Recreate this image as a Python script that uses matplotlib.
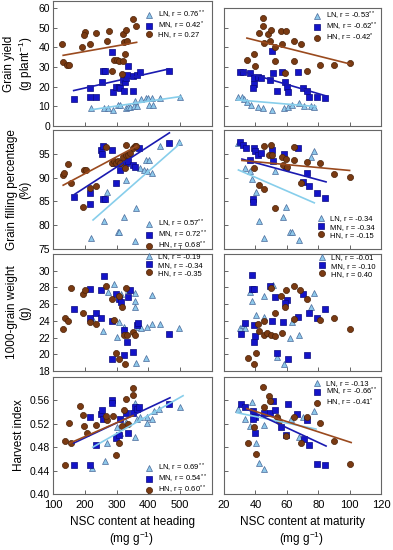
import matplotlib
matplotlib.use('Agg')
import matplotlib.pyplot as plt
from matplotlib.lines import Line2D
from matplotlib.ticker import FormatStrFormatter

plt.rcParams['font.family'] = ['Liberation Sans', 'DejaVu Sans']
plt.rcParams['mathtext.fontset'] = 'custom'
plt.rcParams['mathtext.rm'] = 'Liberation Sans'
plt.rcParams['mathtext.it'] = 'Liberation Sans:italic'

# ---------------- data ----------------
# Row 1: grain yield vs NSC at heading
gy_h_HN_x = [127,132,143,151,191,200,197,215,234,269,277,286,293,301,307,320,322,320,331,334,325,317,350,361]
gy_h_HN_y = [41.6,32.3,31.1,31.1,40.1,47.9,46.1,41.8,47.1,43.0,48.4,27.7,33.3,33.7,32.8,33.1,42.5,46.9,48.6,43.0,36.5,26.5,54.4,50.7]
gy_h_MN_x = [165,215,236,215,254,258,264,286,288,299,307,311,320,322,325,328,333,336,350,350,363,374,465]
gy_h_MN_y = [13.9,14.6,14.6,19.2,22.6,27.7,27.7,37.6,17.5,19.7,19.7,19.2,23.5,18.0,22.1,24.3,26.0,30.3,25.2,18.0,26.0,27.2,27.7]
gy_h_LN_x = [221,261,272,288,304,311,330,336,341,354,357,364,378,392,400,411,403,413,436,500]
gy_h_LN_y = [9.0,9.3,9.3,8.2,10.7,10.7,9.0,9.5,9.5,10.2,12.9,10.2,13.9,14.1,14.4,14.4,10.7,10.7,14.1,14.6]
gy_h_fit_LN = ([218, 502], [8.2, 15.0])
gy_h_fit_MN = ([165, 465], [18.0, 29.0])
gy_h_fit_HN = ([132, 363], [35.9, 42.5])

gy_m_HN_x = [44.9,44.9,42.1,47.9,50.0,56.0,59.3,45.3,49.6,52.2,57.1,64.6,68.9,39.3,34.6,52.2,64.6,40.0,58.6,72.8,81.4,90.0,100.0]
gy_m_HN_y = [54.9,50.7,47.3,46.8,49.0,48.1,48.1,42.2,43.0,40.0,41.7,43.0,41.7,36.6,33.7,33.2,33.2,30.3,27.2,28.2,31.1,31.1,32.0]
gy_m_MN_x = [30.3,32.4,36.3,38.9,41.5,43.6,39.3,38.5,50.7,51.3,49.6,53.5,57.1,58.6,60.3,60.8,67.2,70.6,72.8,74.3,79.2,84.4]
gy_m_MN_y = [27.7,27.7,26.9,24.3,24.8,24.3,21.4,19.2,37.9,27.2,23.5,18.0,27.7,22.6,19.7,17.5,27.7,19.2,18.0,14.6,14.6,14.1]
gy_m_LN_x = [29.2,31.4,32.9,34.6,37.2,41.5,44.9,50.7,58.2,60.8,63.6,67.9,71.1,75.4,77.5]
gy_m_LN_y = [15.0,14.5,13.9,12.4,10.7,9.5,9.0,8.2,9.0,9.5,10.7,11.9,10.2,10.2,9.5]
gy_m_fit_LN = ([28.2, 78.6], [13.3, 9.9])
gy_m_fit_MN = ([29.9, 85.0], [28.2, 15.3])
gy_m_fit_HN = ([34.6, 100.0], [44.7, 31.6])

# Row 2: grain filling percentage
gf_h_HN_x = [132,135,148,157,197,204,193,215,236,266,286,293,299,304,311,320,328,328,336,341,350,357,361,325]
gf_h_HN_y = [90.5,90.9,92.9,88.9,91.7,91.7,83.8,87.9,88.2,96.4,93.0,93.4,93.0,93.4,93.0,94.4,96.9,94.8,94.8,95.1,96.2,96.7,96.6,92.0]
gf_h_MN_x = [165,215,215,250,255,256,258,264,286,297,293,309,311,328,336,352,357,372,465]
gf_h_MN_y = [85.9,86.8,84.5,95.8,95.0,96.7,85.6,85.6,95.8,88.9,93.0,93.0,91.7,93.0,93.4,92.7,92.3,96.2,97.3]
gf_h_LN_x = [218,261,269,304,309,322,328,357,361,374,385,392,403,395,411,436,497]
gf_h_LN_y = [77.4,80.8,87.0,78.5,78.5,81.8,89.6,76.7,83.7,92.0,91.6,93.6,93.6,91.3,90.9,96.7,97.4]
gf_h_fit_LN = ([226, 502], [81.1, 97.3])
gf_h_fit_MN = ([168, 466], [86.5, 99.4])
gf_h_fit_HN = ([132, 363], [88.4, 96.6])

gf_m_HN_x = [45.3,50.0,48.5,50.7,57.1,59.3,57.6,60.3,64.6,64.6,72.8,81.4,90.0,100.0,42.1,45.7,52.2,68.9,38.9]
gf_m_HN_y = [96.7,96.9,94.8,94.8,94.3,93.9,92.7,92.3,96.4,93.7,93.2,93.0,90.8,90.2,88.4,87.7,83.7,88.9,92.0]
gf_m_MN_x = [30.3,32.0,34.2,38.9,40.0,41.5,43.6,50.7,51.3,58.2,59.3,67.2,72.8,70.6,74.3,79.2,84.4,38.5,38.5,36.7]
gf_m_MN_y = [97.4,96.9,96.2,96.2,95.5,94.8,95.1,95.8,93.4,95.0,92.3,96.2,91.0,89.1,88.2,86.8,85.8,85.6,84.9,93.7]
gf_m_LN_x = [29.2,33.5,36.7,37.8,40.6,42.1,45.7,52.8,57.8,59.3,62.1,63.6,67.9,75.4,77.1]
gf_m_LN_y = [97.3,92.0,91.3,89.8,87.0,80.8,77.4,91.3,81.8,83.8,78.5,78.5,76.9,94.4,95.5]
gf_m_fit_LN = ([29.2, 77.5], [91.6, 84.7])
gf_m_fit_MN = ([31.4, 85.0], [93.9, 89.1])
gf_m_fit_HN = ([31.4, 100.0], [93.6, 91.5])

# Row 3: 1000-grain weight
gw_h_HN_x = [132,138,148,157,193,200,193,215,236,266,286,293,299,307,307,318,322,325,328,333,350,357]
gw_h_HN_y = [23.0,24.4,24.0,27.9,27.2,27.7,24.9,23.9,23.6,28.2,26.6,24.1,20.2,19.4,27.0,25.6,22.3,18.8,27.9,22.3,22.7,22.3]
gw_h_MN_x = [165,215,215,236,250,250,261,286,297,307,314,322,322,286,333,336,341,350,363,368,465]
gw_h_MN_y = [25.4,24.4,27.8,24.9,24.4,27.7,29.4,24.0,27.2,26.6,26.2,22.9,19.9,19.4,21.5,26.8,27.7,20.3,23.5,23.7,22.4]
gw_h_LN_x = [224,258,272,293,301,309,314,322,336,357,357,357,361,368,378,392,395,411,411,436,497]
gw_h_LN_y = [24.3,22.8,27.4,28.4,22.1,23.9,27.2,23.3,27.7,27.3,26.4,25.6,18.9,23.3,23.1,19.6,23.3,27.1,23.6,23.6,23.1]

gw_m_HN_x = [50.0,56.0,59.3,64.6,68.5,72.8,58.6,52.2,64.6,81.4,90.0,100.0,41.5,45.7,42.1,45.3,47.5,49.7,52.2,57.1,40.6,35.0,39.3]
gw_m_HN_y = [27.9,27.0,27.7,28.2,27.7,26.6,25.6,24.9,24.2,24.1,24.4,23.0,23.6,24.0,22.8,22.3,22.5,22.3,22.2,22.6,20.2,19.5,18.8]
gw_m_MN_x = [37.8,37.8,39.3,49.2,52.2,60.0,58.6,70.6,67.2,74.3,79.2,84.4,33.5,30.7,39.3,40.0,38.9,50.7,57.8,53.5,60.8,72.8]
gw_m_MN_y = [29.5,27.8,27.8,28.2,26.8,26.5,26.1,27.2,24.5,24.9,24.4,25.4,23.7,22.4,23.5,22.2,21.5,24.0,23.9,20.1,19.4,19.9]
gw_m_LN_x = [36.3,37.8,45.7,51.3,77.1,75.4,40.6,45.3,63.6,29.9,32.0,33.5,62.1,67.9,53.5,58.2]
gw_m_LN_y = [27.4,26.4,27.0,28.3,27.3,25.6,24.7,24.5,23.9,23.1,23.5,23.1,22.0,22.3,19.7,18.8]

# Row 4: harvest index
hi_h_HN_x = [137,139,150,157,184,193,198,206,236,270,266,289,298,308,330,323,316,350,350,337]
hi_h_HN_y = [0.450,0.491,0.522,0.488,0.550,0.535,0.517,0.505,0.518,0.527,0.533,0.533,0.467,0.488,0.562,0.544,0.517,0.570,0.581,0.519]
hi_h_MN_x = [165,215,215,236,250,255,258,286,286,297,307,311,328,336,350,357,364,372,465]
hi_h_MN_y = [0.450,0.450,0.531,0.484,0.536,0.544,0.529,0.561,0.555,0.495,0.501,0.528,0.539,0.504,0.539,0.548,0.545,0.548,0.553]
hi_h_LN_x = [222,262,270,300,311,330,359,359,364,375,396,396,412,417,433,498]
hi_h_LN_y = [0.445,0.456,0.487,0.514,0.505,0.523,0.556,0.497,0.529,0.532,0.531,0.521,0.529,0.542,0.545,0.548]
hi_h_fit_LN = ([225, 509], [0.480, 0.568])
hi_h_fit_MN = ([165, 468], [0.487, 0.5645])
hi_h_fit_HN = ([153, 352], [0.487, 0.534])

hi_m_HN_x = [44.9,48.5,49.6,45.7,53.9,55.0,39.3,59.3,64.6,72.8,81.4,90.0,100.0,35.0,40.6,68.9]
hi_m_HN_y = [0.583,0.567,0.559,0.548,0.531,0.525,0.514,0.500,0.532,0.532,0.522,0.491,0.451,0.488,0.469,0.488]
hi_m_MN_x = [30.7,33.5,38.5,40.0,38.5,40.0,45.3,51.3,49.6,52.8,60.8,66.8,72.8,71.1,74.3,79.2,84.6,59.3,56.0]
hi_m_MN_y = [0.553,0.548,0.542,0.531,0.529,0.505,0.539,0.559,0.539,0.544,0.553,0.536,0.527,0.494,0.484,0.451,0.450,0.501,0.514]
hi_m_LN_x = [29.2,33.5,37.8,36.7,40.6,42.1,45.7,45.3,62.9,67.9,70.0,77.1]
hi_m_LN_y = [0.545,0.528,0.557,0.517,0.487,0.453,0.442,0.518,0.528,0.497,0.531,0.542]
hi_m_fit_LN = ([28.2, 78.6], [0.539, 0.511])
hi_m_fit_MN = ([31.4, 85.0], [0.549, 0.482])
hi_m_fit_HN = ([34.6, 101.0], [0.546, 0.488])

# legend labels
leg_gy_h = [r'LN, r = 0.76$^{**}$', r'MN, r = 0.42$^{*}$', 'HN, r = 0.27']
leg_gy_m = [r'LN, r = -0.53$^{**}$', r'MN, r = -0.62$^{**}$', r'HN, r = -0.42$^{*}$']
leg_gf_h = [r'LN, r = 0.57$^{**}$', r'MN, r = 0.72$^{**}$', r'HN, r = 0.68$^{**}$']
leg_gf_m = ['LN, r = -0.34', 'MN, r = -0.34', 'HN, r = -0.15']
leg_gw_h = ['LN, r = -0.19', 'MN, r = -0.34', 'HN, r = -0.35']
leg_gw_m = ['LN, r = -0.01', 'MN, r = -0.10', 'HN, r = 0.40']
leg_hi_h = [r'LN, r = 0.69$^{**}$', r'MN, r = 0.54$^{**}$', r'HN, r = 0.60$^{**}$']
leg_hi_m = ['LN, r = -0.13', r'MN, r = -0.66$^{**}$', r'HN, r = -0.41$^{*}$']

ylabels = ['Grain yield\n(g plant$^{-1}$)', 'Grain filling percentage\n(%)',
           '1000-grain weight\n(g)', 'Harvest index']
xlabel_h = 'NSC content at heading\n(mg g$^{-1}$)'
xlabel_m = 'NSC content at maturity\n(mg g$^{-1}$)'

# ---------------- styles ----------------
W, H = 393, 550
fig = plt.figure(figsize=(W / 100, H / 100), dpi=100)

sty = {
    'LN': dict(marker='^', ms=4.4, mfc='#8ec8ea', mec='#4a6a9a', mew=0.5),
    'MN': dict(marker='s', ms=3.8, mfc='#1414c8', mec='#0a0a80', mew=0.5),
    'HN': dict(marker='o', ms=4.4, mfc='#7a3a12', mec='#4a2208', mew=0.5),
}
line_col = {'LN': '#87ceeb', 'MN': '#1a1ab0', 'HN': '#9a4a1e'}
spine_col = '#666666'


def fx(px):
    return px / W


def fy(py):
    return 1 - py / H


def make_ax(left, right, top, bottom):
    ax = fig.add_axes([fx(left), fy(bottom), fx(right) - fx(left), (bottom - top) / H])
    for s in ax.spines.values():
        s.set_color(spine_col)
        s.set_linewidth(0.8)
    ax.tick_params(direction='in', length=3, width=0.7, color=spine_col,
                   labelsize=7.5, pad=2, top=False, right=False)
    return ax


def draw(ax, series, fits, labels, leg_xy):
    for key, (x, y) in series.items():
        ax.plot(x, y, ls='none', zorder=3, **sty[key])
    if fits:
        for key, (x, y) in fits.items():
            ax.plot(x, y, color=line_col[key], lw=1.2, zorder=4)
    handles = [Line2D([], [], ls='none', **sty[k]) for k in ('LN', 'MN', 'HN')]
    lx, ly = leg_xy
    has_sup = any('$' in lab for lab in labels)
    ax.legend(handles, labels, loc='upper left', bbox_to_anchor=(fx(lx), fy(ly)),
              bbox_transform=fig.transFigure, frameon=False, fontsize=5.5,
              handlelength=1.0, handletextpad=0.75,
              labelspacing=(-0.15 if has_sup else 0.12),
              borderpad=0, borderaxespad=0)


rows = [
    dict(top_l=1, top_r=8, bottom=126, ylim_l=(0, 63.5), ylim_r=(0, 60), yt=[0, 10, 20, 30, 40, 50, 60], fmt='%d'),
    dict(top_l=130, top_r=130, bottom=249, ylim_l=(75, 100), ylim_r=(75, 100), yt=[75, 80, 85, 90, 95], fmt='%d'),
    dict(top_l=254, top_r=254, bottom=371, ylim_l=(18, 32), ylim_r=(18, 32), yt=[18, 20, 22, 24, 26, 28, 30], fmt='%d'),
    dict(top_l=377, top_r=377, bottom=494, ylim_l=(0.40, 0.60), ylim_r=(0.40, 0.60), yt=[0.40, 0.44, 0.48, 0.52, 0.56], fmt='%.2f'),
]

left_series = [
    {'LN': (gy_h_LN_x, gy_h_LN_y), 'MN': (gy_h_MN_x, gy_h_MN_y), 'HN': (gy_h_HN_x, gy_h_HN_y)},
    {'LN': (gf_h_LN_x, gf_h_LN_y), 'MN': (gf_h_MN_x, gf_h_MN_y), 'HN': (gf_h_HN_x, gf_h_HN_y)},
    {'LN': (gw_h_LN_x, gw_h_LN_y), 'MN': (gw_h_MN_x, gw_h_MN_y), 'HN': (gw_h_HN_x, gw_h_HN_y)},
    {'LN': (hi_h_LN_x, hi_h_LN_y), 'MN': (hi_h_MN_x, hi_h_MN_y), 'HN': (hi_h_HN_x, hi_h_HN_y)},
]
right_series = [
    {'LN': (gy_m_LN_x, gy_m_LN_y), 'MN': (gy_m_MN_x, gy_m_MN_y), 'HN': (gy_m_HN_x, gy_m_HN_y)},
    {'LN': (gf_m_LN_x, gf_m_LN_y), 'MN': (gf_m_MN_x, gf_m_MN_y), 'HN': (gf_m_HN_x, gf_m_HN_y)},
    {'LN': (gw_m_LN_x, gw_m_LN_y), 'MN': (gw_m_MN_x, gw_m_MN_y), 'HN': (gw_m_HN_x, gw_m_HN_y)},
    {'LN': (hi_m_LN_x, hi_m_LN_y), 'MN': (hi_m_MN_x, hi_m_MN_y), 'HN': (hi_m_HN_x, hi_m_HN_y)},
]
left_fits = [
    {'LN': gy_h_fit_LN, 'MN': gy_h_fit_MN, 'HN': gy_h_fit_HN},
    {'LN': gf_h_fit_LN, 'MN': gf_h_fit_MN, 'HN': gf_h_fit_HN},
    None,
    {'LN': hi_h_fit_LN, 'MN': hi_h_fit_MN, 'HN': hi_h_fit_HN},
]
right_fits = [
    {'LN': gy_m_fit_LN, 'MN': gy_m_fit_MN, 'HN': gy_m_fit_HN},
    {'LN': gf_m_fit_LN, 'MN': gf_m_fit_MN, 'HN': gf_m_fit_HN},
    None,
    {'LN': hi_m_fit_LN, 'MN': hi_m_fit_MN, 'HN': hi_m_fit_HN},
]
left_legs = [leg_gy_h, leg_gf_h, leg_gw_h, leg_hi_h]
right_legs = [leg_gy_m, leg_gf_m, leg_gw_m, leg_hi_m]
# legend anchor (px): left edge of handle, top of first row
left_leg_pos = [(145, 9), (145, 218), (145, 253), (145, 462)]
right_leg_pos = [(313, 10), (317, 215), (318, 254), (313, 380)]

for i, r in enumerate(rows):
    axl = make_ax(53, 212, r['top_l'], r['bottom'])
    axr = make_ax(224, 381, r['top_r'], r['bottom'])
    draw(axl, left_series[i], left_fits[i], left_legs[i], left_leg_pos[i])
    draw(axr, right_series[i], right_fits[i], right_legs[i], right_leg_pos[i])
    axl.set_xlim(100, 600)
    axl.set_xticks([100, 200, 300, 400, 500])
    axr.set_xlim(20, 120)
    axr.set_xticks([20, 40, 60, 80, 100, 120])
    axl.set_ylim(*r['ylim_l'])
    axr.set_ylim(*r['ylim_r'])
    axl.set_yticks(r['yt'])
    axr.set_yticks(r['yt'])
    axl.yaxis.set_major_formatter(FormatStrFormatter(r['fmt']))
    axr.tick_params(labelleft=False)
    if i < 3:
        axl.tick_params(labelbottom=False)
        axr.tick_params(labelbottom=False)
    else:
        axl.tick_params(axis='x', labelsize=8, pad=4)
        axr.tick_params(axis='x', labelsize=8, pad=4)
    yc = (r['top_l'] + r['bottom']) / 2
    fig.text(fx(19), fy(yc), ylabels[i], rotation=90, ha='center', va='center',
             fontsize=8.5, linespacing=1.15, multialignment='center')

fig.text(fx(132), fy(532), xlabel_h, ha='center', va='center', fontsize=8.5,
         linespacing=1.15, multialignment='center')
fig.text(fx(302), fy(532), xlabel_m, ha='center', va='center', fontsize=8.5,
         linespacing=1.15, multialignment='center')

fig.savefig('out.png', dpi=100)
